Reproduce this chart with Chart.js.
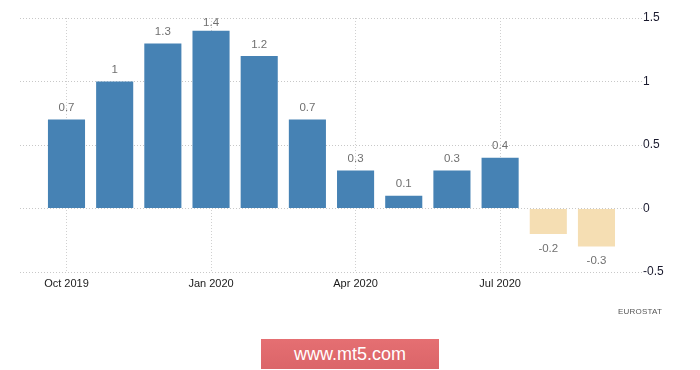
<!DOCTYPE html>
<html>
<head>
<meta charset="utf-8">
<script src="https://cdn.jsdelivr.net/npm/chart.js@4"></script>
<style>
  html, body { margin: 0; padding: 0; background: #fff; }
  #wrap { position: relative; width: 700px; height: 370px; overflow: hidden; }
  #c { position: absolute; left: 0; top: 0; }
  #src { position: absolute; left: 618px; top: 307px; font: 8px "Liberation Sans", Arial, sans-serif; color: #555; letter-spacing: 0.2px; }
  #wm { position: absolute; left: 261px; top: 339px; width: 178px; height: 30px;
        background: linear-gradient(#e56f72, #db6569); color: #fff;
        font: 18px "Liberation Sans", Arial, sans-serif; text-align: center; line-height: 30px; }
</style>
</head>
<body>
<div id="wrap">
  <canvas id="c" width="700" height="370"></canvas>
  <div id="src">EUROSTAT</div>
  <div id="wm">www.mt5.com</div>
</div>
<script>
const categories = ['Oct 2019','Nov 2019','Dec 2019','Jan 2020','Feb 2020','Mar 2020','Apr 2020','May 2020','Jun 2020','Jul 2020','Aug 2020','Sep 2020'];
const values = [0.7, 1, 1.3, 1.4, 1.2, 0.7, 0.3, 0.1, 0.3, 0.4, -0.2, -0.3];
const xTickIndexes = [0, 3, 6, 9];
const yTicks = [-0.5, 0, 0.5, 1, 1.5];

const POS = '#4682b4', NEG = '#f5deb3';
const points = values.map((v, i) => ({ x: i, y: v }));

const labelPlugin = {
  id: 'valueLabels',
  afterDatasetsDraw(chart) {
    const ctx = chart.ctx;
    const meta = chart.getDatasetMeta(0);
    const area = chart.chartArea;
    ctx.save();
    ctx.font = '11.5px "Liberation Sans", Arial, sans-serif';
    ctx.fillStyle = '#707070';
    ctx.textAlign = 'center';
    ctx.textBaseline = 'middle';
    meta.data.forEach((el, i) => {
      const v = values[i];
      let y = v >= 0 ? el.y - 11.5 : el.y + 14.5;
      y = Math.max(y, area.top + 5);
      ctx.fillText(String(v), el.x, y);
    });
    ctx.restore();
  }
};

new Chart(document.getElementById('c'), {
  type: 'bar',
  data: {
    datasets: [{
      data: points,
      backgroundColor: values.map(v => v >= 0 ? POS : NEG),
      borderWidth: 0,
      categoryPercentage: 1,
      barPercentage: 0.77
    }]
  },
  options: {
    responsive: false,
    animation: false,
    layout: { padding: { left: 20, top: 18, right: 0, bottom: 76 } },
    plugins: { legend: { display: false }, tooltip: { enabled: false } },
    scales: {
      x: {
        type: 'linear',
        offset: false,
        min: -0.965,
        max: 11.945,
        afterBuildTicks(scale) { scale.ticks = xTickIndexes.map(v => ({ value: v })); },
        afterFit(scale) { scale.height = 22; },
        grid: { offset: false, color: '#d0d0d0', drawTicks: false, tickLength: 0 },
        border: { display: false, dash: [1, 2] },
        ticks: {
          padding: 5,
          maxRotation: 0,
          autoSkip: false,
          color: '#1a1a1a',
          font: { family: '"Liberation Sans", Arial, sans-serif', size: 11 },
          callback: (v) => categories[v]
        }
      },
      y: {
        position: 'right',
        min: -0.5,
        max: 1.5,
        afterBuildTicks(scale) { scale.ticks = yTicks.map(v => ({ value: v })); },
        afterFit(scale) { scale.width = 58; },
        grid: { color: '#c8c8c8', drawTicks: false },
        border: { display: false, dash: [1, 2] },
        ticks: {
          padding: 1,
          crossAlign: 'near',
          color: '#1a1a2e',
          font: { family: '"Liberation Sans", Arial, sans-serif', size: 12 },
          callback: (v) => String(v)
        }
      }
    }
  },
  plugins: [labelPlugin]
});
</script>
</body>
</html>
